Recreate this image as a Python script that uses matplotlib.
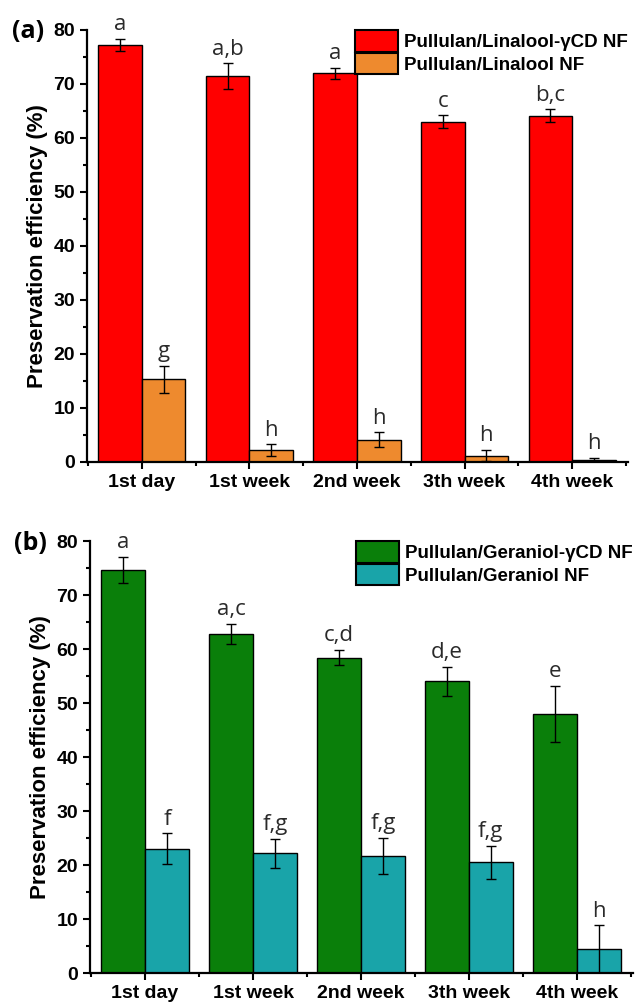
import numpy as np
import matplotlib
matplotlib.use("Agg")
import matplotlib.pyplot as plt
from matplotlib.ticker import MultipleLocator, FixedLocator

# ---------------- data ----------------
periods = ["1st day", "1st week", "2nd week", "3th week", "4th week"]

lin_cd = [77.2, 71.4, 72.0, 63.0, 64.1]
lin_cd_err = [1.15, 2.4, 1.0, 1.2, 1.2]
lin_cd_letters = ["a", "a,b", "a", "c", "b,c"]

lin_nf = [15.3, 2.2, 4.1, 1.2, 0.3]
lin_nf_err = [2.5, 1.05, 1.4, 1.0, 0.4]
lin_nf_letters = ["g", "h", "h", "h", "h"]

ger_cd = [74.6, 62.8, 58.4, 54.0, 48.0]
ger_cd_err = [2.4, 1.8, 1.4, 2.7, 5.2]
ger_cd_letters = ["a", "a,c", "c,d", "d,e", "e"]

ger_nf = [23.0, 22.2, 21.7, 20.5, 4.4]
ger_nf_err = [2.85, 2.7, 3.3, 3.0, 4.4]
ger_nf_letters = ["f", "f,g", "f,g", "f,g", "h"]

# ---------------- style ----------------
plt.rcParams["font.family"] = ["Liberation Sans", "DejaVu Sans"]
plt.rcParams["font.weight"] = "bold"
LETTER_FONT = ["Open Sans", "DejaVu Sans"]

fig = plt.figure(figsize=(6.44, 10.07), dpi=100)
ax_a = fig.add_axes([87 / 644, 1 - 462 / 1007, (628 - 87) / 644, (462 - 30) / 1007])
ax_b = fig.add_axes([90 / 644, 1 - 973 / 1007, (633 - 90) / 644, (973 - 541) / 1007])

W = 0.405


def panel(ax, v1, e1, l1, c1, n1, v2, e2, l2, c2, n2, tag, fx, fy):
    x = np.arange(len(periods))
    ekw = dict(elinewidth=1.0, capthick=1.0, ecolor="black")
    ax.bar(x - W / 2, v1, W, yerr=e1, color=c1, edgecolor="black", linewidth=1.0,
           capsize=3.5, error_kw=ekw, label=n1, zorder=2)
    ax.bar(x + W / 2, v2, W, yerr=e2, color=c2, edgecolor="black", linewidth=1.0,
           capsize=3.5, error_kw=ekw, label=n2, zorder=2)
    for i in range(len(x)):
        ax.text(x[i] - W / 2, v1[i] + e1[i] + 0.7, l1[i], ha="center", va="bottom",
                fontsize=16, fontweight="normal", family=LETTER_FONT, color="#2a2a2a")
        ax.text(x[i] + W / 2, v2[i] + e2[i] + 0.7, l2[i], ha="center", va="bottom",
                fontsize=16, fontweight="normal", family=LETTER_FONT, color="#2a2a2a")

    ax.set_xlim(-0.51, 4.52)
    ax.set_ylim(0, 80)
    ax.set_xticks(x)
    ax.set_xticklabels(periods, fontsize=14, fontweight="bold")
    ax.xaxis.set_minor_locator(FixedLocator([-0.5, 0.5, 1.5, 2.5, 3.5, 4.5]))
    ax.yaxis.set_major_locator(MultipleLocator(10))
    ax.yaxis.set_minor_locator(MultipleLocator(5))
    ax.tick_params(axis="y", labelsize=14)
    ax.tick_params(which="major", direction="out", length=5, width=1.5)
    ax.tick_params(which="minor", direction="out", length=3, width=1.5)
    for s in ["top", "right"]:
        ax.spines[s].set_visible(False)
    for s in ["left", "bottom"]:
        ax.spines[s].set_linewidth(1.6)
    ax.set_ylabel("Preservation efficiency (%)", fontsize=16, fontweight="bold", labelpad=4)

    leg = ax.legend(loc="upper right", bbox_to_anchor=(1.0, 1.0), frameon=False,
                    prop=dict(size=13.5, weight="bold"), handlelength=2.3, handleheight=1.4,
                    handletextpad=0.35, labelspacing=0.05, borderaxespad=0.0, borderpad=0.0)
    for p in leg.get_patches():
        p.set_linewidth(1.5)

    fig.text(fx, fy, tag, fontsize=18, fontweight="bold", family=LETTER_FONT,
             ha="left", va="center")


panel(ax_a, lin_cd, lin_cd_err, lin_cd_letters, "#FF0000", "Pullulan/Linalool-γCD NF",
      lin_nf, lin_nf_err, lin_nf_letters, "#EE8A2E", "Pullulan/Linalool NF",
      "(a)", 12 / 644, 1 - 32 / 1007)
panel(ax_b, ger_cd, ger_cd_err, ger_cd_letters, "#0A7F0A", "Pullulan/Geraniol-γCD NF",
      ger_nf, ger_nf_err, ger_nf_letters, "#19A4A9", "Pullulan/Geraniol NF",
      "(b)", 14 / 644, 1 - 543 / 1007)

fig.savefig("out.png", dpi=100)
